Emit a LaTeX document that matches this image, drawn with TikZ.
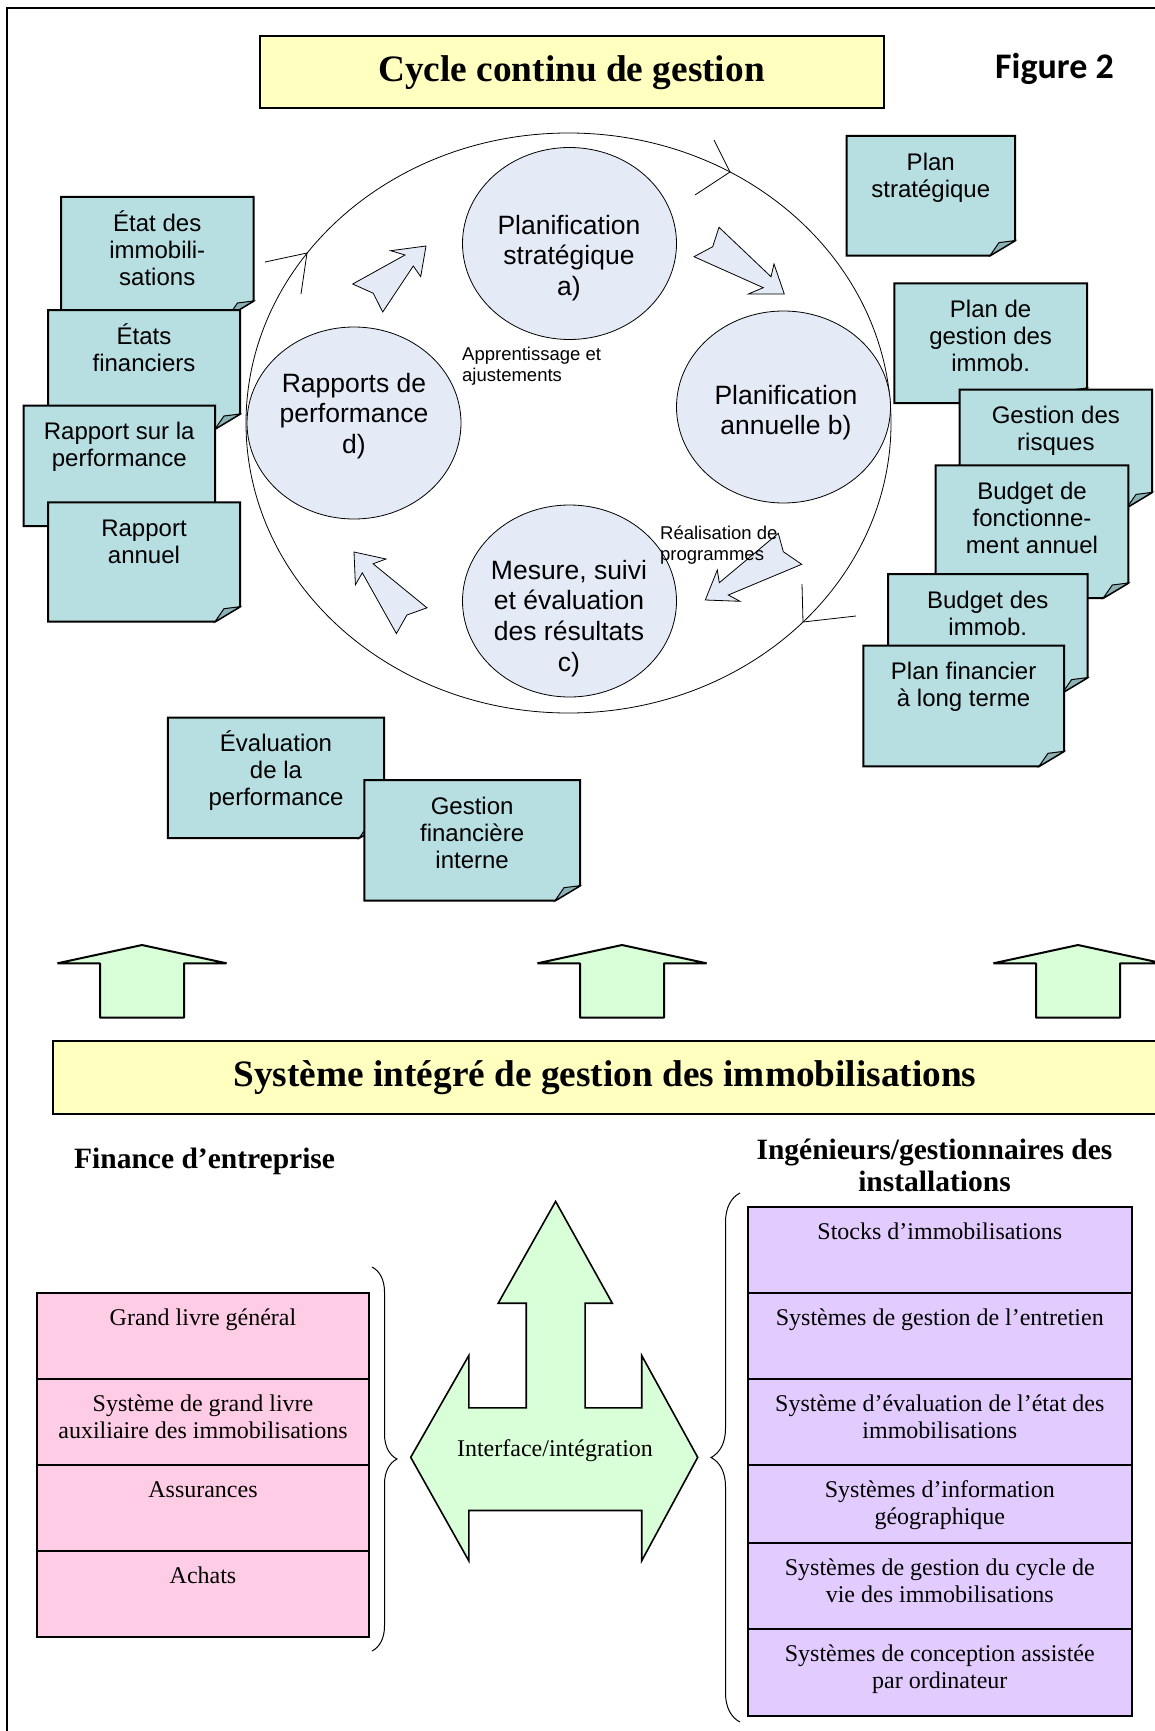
\documentclass[tikz,border=0pt]{standalone}
\usepackage{fontspec}
\setmainfont{Liberation Serif}
\setsansfont{Liberation Sans}
\newfontfamily\figfont{Carlito}
\usetikzlibrary{shapes.geometric,decorations.pathreplacing}

\definecolor{notefill}{RGB}{183,222,224}
\definecolor{notefold}{RGB}{140,178,182}
\definecolor{phasefill}{RGB}{228,235,246}
\definecolor{titlefill}{RGB}{255,255,192}
\definecolor{greenfill}{RGB}{216,255,216}
\definecolor{pinkfill}{RGB}{255,204,230}
\definecolor{lilacfill}{RGB}{226,204,255}

\newcommand{\capstrut}[1]{\rule{0pt}{#1}}

\tikzset{
  titlebox/.style={draw, line width=2pt, fill=titlefill, inner sep=0pt,
    font=\bfseries\fontsize{37.3}{40}\selectfont},
  figlabel/.style={font=\figfont\bfseries\fontsize{36}{40}\selectfont, inner sep=0pt},
  phase/.style={ellipse, draw, line width=0.8pt, fill=phasefill,
    minimum width=214pt, minimum height=192pt, inner sep=0pt},
  phasetext/.style={anchor=north, align=center, inner sep=0pt,
    font=\sffamily\fontsize{26.5}{30.7}\selectfont},
  steptext/.style={anchor=north west, align=left, inner sep=0pt,
    font=\sffamily\fontsize{18.5}{21}\selectfont},
  flowarrow/.style={draw, line width=0.8pt, fill=phasefill, line join=miter},
  cyclearrow/.style={line width=0.8pt},
  notebody/.style={draw, line width=2pt, fill=notefill, line join=miter},
  notecorner/.style={draw, line width=1pt, fill=notefold},
  notetext/.style={anchor=north, align=center, inner sep=0pt,
    font=\sffamily\fontsize{24}{27}\selectfont},
  greenarrow/.style={draw, line width=2pt, fill=greenfill, line join=bevel},
  headtext/.style={font=\bfseries\fontsize{29.5}{32}\selectfont, inner sep=0pt},
  pinkrow/.style={draw, line width=2pt, fill=pinkfill, minimum width=332.6pt, inner sep=0pt},
  lilacrow/.style={draw, line width=2pt, fill=lilacfill, minimum width=384.2pt, inner sep=0pt},
  celltext/.style={anchor=north, align=center, inner sep=0pt,
    font=\fontsize{24}{27}\selectfont},
  bracket/.style={decorate, decoration={brace, amplitude=#1}, line width=1pt},
}

% sticky note: name, left, top, right, bottom, text
\newcommand{\stickynote}[6]{%
  \filldraw[notebody] (#2,#3) -- (#4,#3) -- (#4,#5-15) -- (#4-25,#5) -- (#2,#5) -- cycle;
  \filldraw[notecorner] (#4-25,#5) -- (#4-16,#5-13) -- (#4,#5-15) -- cycle;
  \node[notetext] (#1) at ({(#2+#4)/2},#3+12) {\capstrut{22pt}#6};
}

\begin{document}
\begin{tikzpicture}[x=1pt, y=-1pt]
  \useasboundingbox (0,0) rectangle (1154,1731);
  % page frame, cut on the right and at the bottom
  \draw[line width=2pt] (7,1745) -- (7,8) -- (1165,8);

  % Titles
  \node[titlebox, minimum width=624pt, minimum height=72.5pt] (cycletitle) at (571.5,71.8) {\capstrut{28pt}Cycle continu de gestion};
  \node[figlabel, anchor=base] (fignum) at (1054.5,79) {Figure 2};

  % The cycle
  \node[ellipse, draw, line width=0.8pt, minimum width=645pt, minimum height=580pt] (cycle) at (568.5,423) {};
  \draw[cyclearrow] (265,262) -- (307,253) -- (301,294);
  \draw[cyclearrow] (714,140) -- (730,172) -- (695,195);
  \draw[cyclearrow] (802,584) -- (803,622) -- (856,616);

  \node[phase] (strat) at (569.5,243.5) {};
  \node[phase] (annual) at (783.5,407) {};
  \node[phase] (measure) at (569.5,601) {};
  \node[phase] (report) at (354,423) {};

  \node[phasetext] (strat-t) at (569,213) {\capstrut{21pt}Planification\\stratégique\\a)};
  \node[phasetext] (annual-t) at (786,383) {\capstrut{21pt}Planification\\annuelle b)};
  \node[phasetext] (measure-t) at (569,558) {\capstrut{21pt}Mesure, suivi\\et évaluation\\des résultats\\c)};
  \node[phasetext] (report-t) at (354,371) {\capstrut{21pt}Rapports de\\performance\\d)};

  % Block arrows between the phases
  \filldraw[flowarrow] (426,246) -- (420.7,276.7) -- (413.3,266) -- (382.7,312) -- (373.3,293.3)
    -- (352.7,284) -- (405,255) -- (390.7,250.7) -- cycle;
  \filldraw[flowarrow] (784.3,294) -- (748.3,294) -- (763.3,287.7) -- (694,256.7) -- (712.7,246.7)
    -- (719,227.3) -- (771,276.7) -- (774,264) -- cycle;
  \filldraw[flowarrow] (705.3,600) -- (740,601.3) -- (728.3,595) -- (801.7,564.3) -- (783.3,551.7)
    -- (778.3,533.3) -- (719.3,582.7) -- (717.3,570) -- cycle;
  \filldraw[flowarrow] (354,552) -- (386,559) -- (373.1,563.8) -- (427,607.8) -- (406.9,615)
    -- (396.4,633.6) -- (362.3,572.8) -- (355.4,584.8) -- cycle;

  \node[steptext] (learn) at (462,345.7) {\capstrut{15pt}Apprentissage et\\ajustements};
  \node[steptext] (deliver) at (660,524.3) {\capstrut{15pt}Réalisation de\\programmes};

  % Documents, left
  \stickynote{etat}{61}{197}{253.5}{316}{État des\\immobili-\\sations}
  \stickynote{etatsfin}{48}{310}{240}{429}{États\\financiers}
  \stickynote{rapperf}{23.5}{405.7}{215}{526}{Rapport sur la\\performance}
  \stickynote{rappann}{48}{502.3}{240}{621.7}{Rapport\\annuel}

  % Documents, right
  \stickynote{planstrat}{846.5}{136}{1015}{255.6}{Plan\\stratégique}
  \stickynote{plangest}{894.3}{283.4}{1087}{403}{Plan de\\gestion des\\immob.}
  \stickynote{risques}{959.7}{389.5}{1152}{507.4}{Gestion des\\risques}
  \stickynote{budfonc}{935.7}{465.3}{1128.3}{598}{Budget de\\fonctionne-\\ment annuel}
  \stickynote{budimmo}{888}{574}{1087.6}{692.6}{Budget des\\immob.}
  \stickynote{planfin}{863.3}{645.5}{1064}{766.3}{Plan financier\\à long terme}

  % Documents, bottom
  \stickynote{evalperf}{167.8}{717.7}{384.2}{838}{Évaluation\\de la\\performance}
  \stickynote{gestfin}{364.3}{780}{580}{900.7}{Gestion\\financière\\interne}

  % Up arrows
  \foreach \cx in {142,622,1078}
    \filldraw[greenarrow] (\cx,945) -- (\cx+84.6,963.3) -- (\cx+42,963.3) -- (\cx+42,1017.7)
      -- (\cx-42,1017.7) -- (\cx-42,963.3) -- (\cx-84.6,963.3) -- cycle;

  \node[titlebox, minimum width=1104pt, minimum height=73pt] (systitle) at (605,1077) {\capstrut{28pt}Système intégré de gestion des immobilisations};

  % Finance side
  \node[headtext, anchor=base west] (finhead) at (74,1168) {Finance d’entreprise};
  \node[pinkrow, minimum height=85.7pt] (ledger) at (203,1336) {};
  \node[pinkrow, minimum height=86.1pt] (subledger) at (203,1422) {};
  \node[pinkrow, minimum height=85.7pt] (insurance) at (203,1507.9) {};
  \node[pinkrow, minimum height=86.5pt] (purchase) at (203,1594) {};
  \node[celltext] (ledger-t) at ([yshift=-15.5pt]ledger.north) {\capstrut{18pt}Grand livre général};
  \node[celltext] (subledger-t) at ([yshift=-15.5pt]subledger.north) {\capstrut{18pt}Système de grand livre\\auxiliaire des immobilisations};
  \node[celltext] (insurance-t) at ([yshift=-15.5pt]insurance.north) {\capstrut{18pt}Assurances};
  \node[celltext] (purchase-t) at ([yshift=-15.5pt]purchase.north) {\capstrut{18pt}Achats};
  \draw[bracket=25pt] (372,1267) -- (372,1651);

  % Interface
  \filldraw[greenarrow, line width=1.6pt, line join=miter] (555.6,1201.4) -- (612.3,1303.2) -- (585.1,1303.2) -- (585.1,1407.8)
    -- (641.7,1407.8) -- (641.7,1355.5) -- (697.7,1457.3) -- (641.7,1560.8) -- (641.7,1510.5)
    -- (468.8,1510.5) -- (468.8,1560.8) -- (410.7,1457.3) -- (468.8,1355.5) -- (468.8,1407.8)
    -- (526.2,1407.8) -- (526.2,1303.2) -- (498.2,1303.2) -- cycle;
  \node[celltext, anchor=base] (interface) at (555,1456) {Interface/intégration};

  % Facilities side
  \node[headtext, align=center, anchor=north] (faclhead) at (934.5,1137) {\capstrut{22pt}Ingénieurs/gestionnaires des\\installations};
  \node[lilacrow, minimum height=86.6pt] (stock) at (939.8,1249.9) {};
  \node[lilacrow, minimum height=85.7pt] (upkeep) at (939.8,1336) {};
  \node[lilacrow, minimum height=86.1pt] (condition) at (939.8,1422) {};
  \node[lilacrow, minimum height=77.7pt] (gis) at (939.8,1503.9) {};
  \node[lilacrow, minimum height=86.5pt] (lifecycle) at (939.8,1586) {};
  \node[lilacrow, minimum height=86.5pt] (cad) at (939.8,1672.5) {};
  \node[celltext] (stock-t) at ([yshift=-15.5pt]stock.north) {\capstrut{18pt}Stocks d’immobilisations};
  \node[celltext] (upkeep-t) at ([yshift=-15.5pt]upkeep.north) {\capstrut{18pt}Systèmes de gestion de l’entretien};
  \node[celltext] (condition-t) at ([yshift=-15.5pt]condition.north) {\capstrut{18pt}Système d’évaluation de l’état des\\immobilisations};
  \node[celltext] (gis-t) at ([yshift=-15.5pt]gis.north) {\capstrut{18pt}Systèmes d’information\\géographique};
  \node[celltext] (lifecycle-t) at ([yshift=-15.5pt]lifecycle.north) {\capstrut{18pt}Systèmes de gestion du cycle de\\vie des immobilisations};
  \node[celltext] (cad-t) at ([yshift=-15.5pt]cad.north) {\capstrut{18pt}Systèmes de conception assistée\\par ordinateur};
  \draw[bracket=29pt] (740,1722) -- (740,1193);
\end{tikzpicture}
\end{document}
